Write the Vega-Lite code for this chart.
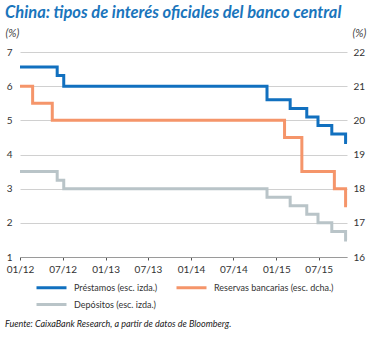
{
  "$schema": "https://vega.github.io/schema/vega-lite/v6.json",
  "background": "white",
  "padding": {"left": 5, "top": 4, "right": 5, "bottom": 4},
  "title": {
    "text": "China: tipos de interés oficiales del banco central",
    "anchor": "start",
    "font": "Lato",
    "fontSize": 16.5,
    "fontWeight": "bold",
    "fontStyle": "italic",
    "color": "#1a75bc",
    "offset": 6,
    "frame": "bounds"
  },
  "datasets": {
    "rates": [
      {"date": "2012-01-01", "serie": "Préstamos (esc. izda.)", "value": 6.56},
      {"date": "2012-06-08", "serie": "Préstamos (esc. izda.)", "value": 6.31},
      {"date": "2012-07-06", "serie": "Préstamos (esc. izda.)", "value": 6.00},
      {"date": "2014-11-22", "serie": "Préstamos (esc. izda.)", "value": 5.60},
      {"date": "2015-03-01", "serie": "Préstamos (esc. izda.)", "value": 5.35},
      {"date": "2015-05-11", "serie": "Préstamos (esc. izda.)", "value": 5.10},
      {"date": "2015-06-28", "serie": "Préstamos (esc. izda.)", "value": 4.85},
      {"date": "2015-08-26", "serie": "Préstamos (esc. izda.)", "value": 4.60},
      {"date": "2015-10-24", "serie": "Préstamos (esc. izda.)", "value": 4.35},
      {"date": "2015-10-30", "serie": "Préstamos (esc. izda.)", "value": 4.35},
      {"date": "2012-01-01", "serie": "Depósitos (esc. izda.)", "value": 3.50},
      {"date": "2012-06-08", "serie": "Depósitos (esc. izda.)", "value": 3.25},
      {"date": "2012-07-06", "serie": "Depósitos (esc. izda.)", "value": 3.00},
      {"date": "2014-11-22", "serie": "Depósitos (esc. izda.)", "value": 2.75},
      {"date": "2015-03-01", "serie": "Depósitos (esc. izda.)", "value": 2.50},
      {"date": "2015-05-11", "serie": "Depósitos (esc. izda.)", "value": 2.25},
      {"date": "2015-06-28", "serie": "Depósitos (esc. izda.)", "value": 2.00},
      {"date": "2015-08-26", "serie": "Depósitos (esc. izda.)", "value": 1.75},
      {"date": "2015-10-24", "serie": "Depósitos (esc. izda.)", "value": 1.50},
      {"date": "2015-10-30", "serie": "Depósitos (esc. izda.)", "value": 1.50},
      {"date": "2012-01-01", "serie": "Reservas bancarias (esc. dcha.)", "value": 21.0},
      {"date": "2012-02-24", "serie": "Reservas bancarias (esc. dcha.)", "value": 20.5},
      {"date": "2012-05-18", "serie": "Reservas bancarias (esc. dcha.)", "value": 20.0},
      {"date": "2015-02-05", "serie": "Reservas bancarias (esc. dcha.)", "value": 19.5},
      {"date": "2015-04-20", "serie": "Reservas bancarias (esc. dcha.)", "value": 18.5},
      {"date": "2015-09-06", "serie": "Reservas bancarias (esc. dcha.)", "value": 18.0},
      {"date": "2015-10-24", "serie": "Reservas bancarias (esc. dcha.)", "value": 17.5},
      {"date": "2015-10-30", "serie": "Reservas bancarias (esc. dcha.)", "value": 17.5}
    ]
  },
  "vconcat": [
    {
      "width": 327,
      "height": 205,
      "title": {
        "text": "Fuente: CaixaBank Research, a partir de datos de Bloomberg.",
        "orient": "bottom",
        "anchor": "start",
        "frame": "bounds",
        "font": "Lato",
        "fontSize": 9,
        "fontWeight": "normal",
        "fontStyle": "italic",
        "color": "#222222",
        "offset": 9
      },
      "data": {"name": "rates"},
      "layer": [
        {
          "transform": [{"filter": "datum.serie !== 'Reservas bancarias (esc. dcha.)'"}],
          "mark": {"type": "line", "interpolate": "step-after", "strokeWidth": 3},
          "encoding": {
            "x": {
              "field": "date", "type": "temporal",
              "scale": {"type": "utc", "domain": [{"year": 2012, "month": 1, "date": 1, "utc": true}, {"year": 2015, "month": 10, "date": 30, "utc": true}]},
              "axis": {
                "title": null,
                "values": [
                  {"year": 2012, "month": 1, "date": 1, "utc": true},
                  {"year": 2012, "month": 7, "date": 1, "utc": true},
                  {"year": 2013, "month": 1, "date": 1, "utc": true},
                  {"year": 2013, "month": 7, "date": 1, "utc": true},
                  {"year": 2014, "month": 1, "date": 1, "utc": true},
                  {"year": 2014, "month": 7, "date": 1, "utc": true},
                  {"year": 2015, "month": 1, "date": 1, "utc": true},
                  {"year": 2015, "month": 7, "date": 1, "utc": true}
                ],
                "labelExpr": "utcFormat(datum.value, '%m/%y')",
                "grid": false,
                "domain": true,
                "domainColor": "#9a9a9a",
                "ticks": true,
                "tickColor": "#555555",
                "tickSize": 3,
                "labelFont": "Lato",
                "labelFontSize": 10,
                "labelColor": "#333333",
                "labelPadding": 4,
                "labelFlush": false,
                "labelOverlap": false
              }
            },
            "y": {
              "field": "value", "type": "quantitative",
              "scale": {"domain": [1, 7], "nice": false, "zero": false},
              "axis": {
                "title": "(%)",
                "titleAngle": 0,
                "titleAlign": "left",
                "titleBaseline": "alphabetic",
                "titleX": -15,
                "titleY": -16,
                "titleFont": "Lato",
                "titleFontSize": 11,
                "titleFontStyle": "italic",
                "titleFontWeight": "normal",
                "titleColor": "#444444",
                "values": [1, 2, 3, 4, 5, 6, 7],
                "grid": true,
                "gridColor": "#d0d0d0",
                "gridWidth": 1,
                "domain": false,
                "ticks": false,
                "labelPadding": 8,
                "labelFont": "Lato",
                "labelFontSize": 10,
                "labelColor": "#333333"
              }
            },
            "color": {
              "field": "serie", "type": "nominal",
              "scale": {
                "domain": ["Préstamos (esc. izda.)", "Depósitos (esc. izda.)", "Reservas bancarias (esc. dcha.)"],
                "range": ["#1170bf", "#b9c4c8", "#f5956a"]
              },
              "legend": {
                "title": null,
                "orient": "none",
                "legendX": 25,
                "legendY": 229,
                "columns": 2,
                "columnPadding": 12,
                "rowPadding": 4,
                "symbolType": "M-3,0H3",
                "symbolSize": 100,
                "symbolStrokeWidth": 3,
                "labelFont": "Lato",
                "labelFontSize": 9,
                "labelColor": "#333333",
                "labelOffset": 16
              }
            }
          }
        },
        {
          "transform": [{"filter": "datum.serie === 'Reservas bancarias (esc. dcha.)'"}],
          "mark": {"type": "line", "interpolate": "step-after", "strokeWidth": 3},
          "encoding": {
            "x": {"field": "date", "type": "temporal"},
            "y": {
              "field": "value", "type": "quantitative",
              "scale": {"domain": [16, 22], "nice": false, "zero": false},
              "axis": {
                "orient": "right",
                "title": "(%)",
                "titleAngle": 0,
                "titleAlign": "left",
                "titleBaseline": "alphabetic",
                "titleX": 5,
                "titleY": -16,
                "titleFont": "Lato",
                "titleFontSize": 11,
                "titleFontStyle": "italic",
                "titleFontWeight": "normal",
                "titleColor": "#444444",
                "values": [16, 17, 18, 19, 20, 21, 22],
                "grid": false,
                "domain": false,
                "ticks": false,
                "labelPadding": 6,
                "labelFont": "Lato",
                "labelFontSize": 10,
                "labelColor": "#333333"
              }
            },
            "color": {"field": "serie", "type": "nominal"}
          }
        }
      ],
      "resolve": {"scale": {"y": "independent"}}
    }
  ],
  "resolve": {"legend": {"color": "independent"}},
  "config": {"view": {"stroke": null}}
}
